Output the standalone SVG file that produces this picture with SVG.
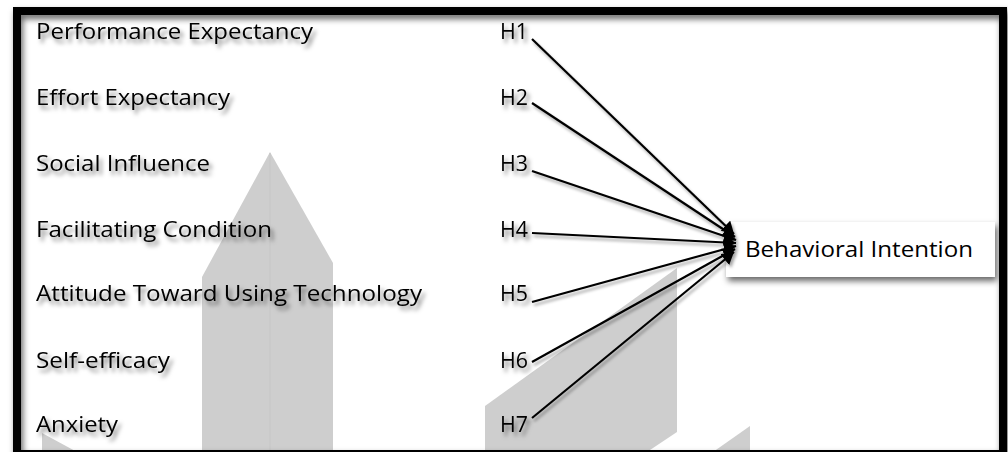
<svg xmlns="http://www.w3.org/2000/svg" width="1008" height="452" viewBox="0 0 1008 452">
<defs>
<filter id="tsh" x="-10%" y="-30%" width="130%" height="180%">
<feDropShadow dx="3" dy="4" stdDeviation="2" flood-color="#000" flood-opacity="0.5"/>
</filter>
<filter id="bsh" x="-10%" y="-10%" width="130%" height="130%">
<feDropShadow dx="2" dy="4" stdDeviation="3" flood-color="#000" flood-opacity="0.6"/>
</filter>
<filter id="lsh" x="-20%" y="-20%" width="140%" height="140%">
<feDropShadow dx="2" dy="3" stdDeviation="1.5" flood-color="#000" flood-opacity="0.35"/>
</filter>
<marker id="ah" viewBox="0 0 12 14" refX="12" refY="7" markerWidth="12" markerHeight="14" markerUnits="userSpaceOnUse" orient="auto">
<path d="M0,0 L12,7 L0,14 z" fill="#000"/>
</marker>
</defs>
<style>
.lbl{font-family:"Open Sans","Noto Sans","Liberation Sans",sans-serif;font-size:22px;fill:#000;}
.bg{fill:#cecece;}
.con line{stroke:#000;stroke-width:2.2;marker-end:url(#ah);}
</style>
<rect width="1008" height="452" fill="#fff"/>
<g id="background">
<polygon class="bg" points="270,152 333,263 333,452 202,452 202,277"/>
<line x1="270" y1="153" x2="270" y2="452" stroke="#c6c6c6" stroke-width="1"/>
<polygon class="bg" points="485,406 677,268 677,432 647,452 485,452"/>
<polygon class="bg" points="750,426 750,452 713,452"/>
<polygon class="bg" points="42,433 77,452 42,452"/>
</g>
<g id="frame" filter="url(#bsh)">
<rect x="17" y="11" width="986" height="443" fill="none" stroke="#000" stroke-width="8"/>
</g>
<g id="node-bi">
<rect x="726" y="222" width="269" height="55" fill="#fff" filter="url(#bsh)"/>
<text class="lbl" x="745" y="257" textLength="228" lengthAdjust="spacingAndGlyphs">Behavioral Intention</text>
</g>
<g id="connectors" class="con" filter="url(#lsh)">
<line x1="532" y1="39" x2="734" y2="234"/>
<line x1="532" y1="103" x2="735" y2="237"/>
<line x1="532" y1="171" x2="736" y2="240"/>
<line x1="532" y1="233" x2="736" y2="243"/>
<line x1="532" y1="302" x2="736" y2="246"/>
<line x1="532" y1="362" x2="735" y2="249"/>
<line x1="532" y1="418" x2="734" y2="252"/>
</g>
<g filter="url(#tsh)">
<g id="node-pe"><text class="lbl" x="36" y="39" textLength="277" lengthAdjust="spacingAndGlyphs">Performance Expectancy</text></g>
<g id="node-ee"><text class="lbl" x="36" y="105" textLength="194" lengthAdjust="spacingAndGlyphs">Effort Expectancy</text></g>
<g id="node-si"><text class="lbl" x="36" y="171" textLength="174" lengthAdjust="spacingAndGlyphs">Social Influence</text></g>
<g id="node-fc"><text class="lbl" x="36" y="237" textLength="236" lengthAdjust="spacingAndGlyphs">Facilitating Condition</text></g>
<g id="node-at"><text class="lbl" x="36" y="301" textLength="386" lengthAdjust="spacingAndGlyphs">Attitude Toward Using Technology</text></g>
<g id="node-se"><text class="lbl" x="36" y="368" textLength="134" lengthAdjust="spacingAndGlyphs">Self-efficacy</text></g>
<g id="node-ax"><text class="lbl" x="36" y="432" textLength="82" lengthAdjust="spacingAndGlyphs">Anxiety</text></g>
<g id="node-h1"><text class="lbl" x="500" y="39" textLength="28" lengthAdjust="spacingAndGlyphs">H1</text></g>
<g id="node-h2"><text class="lbl" x="500" y="105" textLength="28" lengthAdjust="spacingAndGlyphs">H2</text></g>
<g id="node-h3"><text class="lbl" x="500" y="171" textLength="28" lengthAdjust="spacingAndGlyphs">H3</text></g>
<g id="node-h4"><text class="lbl" x="500" y="237" textLength="28" lengthAdjust="spacingAndGlyphs">H4</text></g>
<g id="node-h5"><text class="lbl" x="500" y="301" textLength="28" lengthAdjust="spacingAndGlyphs">H5</text></g>
<g id="node-h6"><text class="lbl" x="500" y="368" textLength="28" lengthAdjust="spacingAndGlyphs">H6</text></g>
<g id="node-h7"><text class="lbl" x="500" y="432" textLength="28" lengthAdjust="spacingAndGlyphs">H7</text></g>
</g>
</svg>
